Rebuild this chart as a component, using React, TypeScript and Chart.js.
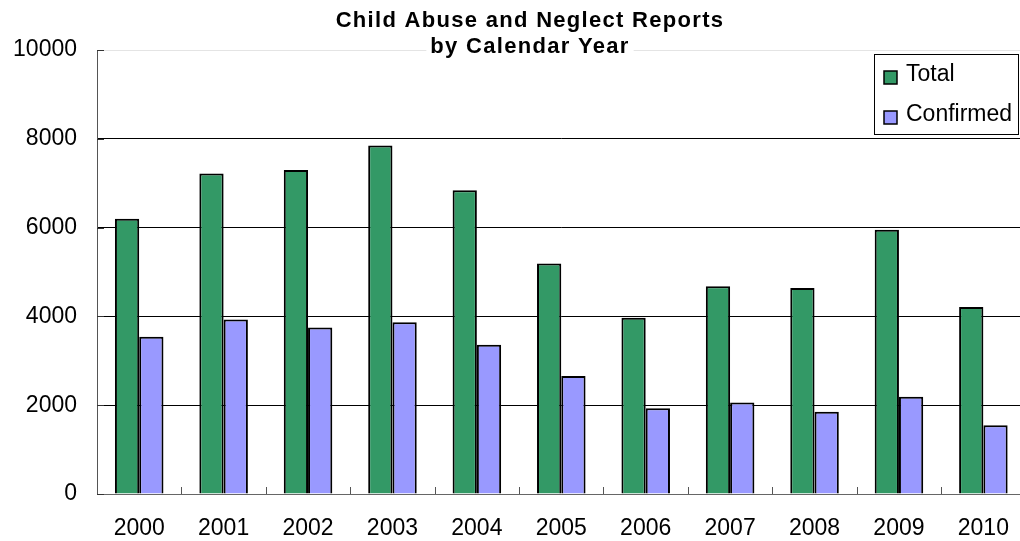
import React, { useEffect, useRef } from "react";
import { Chart, registerables } from "chart.js";

Chart.register(...registerables);

const years = ["2000", "2001", "2002", "2003", "2004", "2005", "2006", "2007", "2008", "2009", "2010"];
const totalReports = [6200, 7220, 7300, 7850, 6840, 5190, 3970, 4680, 4640, 5950, 4210];
const confirmedReports = [3540, 3930, 3750, 3870, 3360, 2660, 1930, 2060, 1850, 2190, 1550];
const titleLines = ["Child Abuse and Neglect Reports", "by Calendar Year"];
const seriesNames = ["Total", "Confirmed"];
const yTicks = [0, 2000, 4000, 6000, 8000, 10000];

const FONT = "'Liberation Sans', Arial, sans-serif";
const GREEN = "#339966";
const PURPLE = "#9999FF";

const decorPlugin = {
  id: "decor",
  afterDraw(chart: any) {
    const ctx = chart.ctx as CanvasRenderingContext2D;
    const area = chart.chartArea;
    const xs = chart.scales.x;
    const ys = chart.scales.y;
    ctx.save();

    // inner tick marks on x axis between categories
    ctx.strokeStyle = "#555";
    ctx.lineWidth = 1;
    for (let i = 0; i < years.length; i++) {
      const a = xs.getPixelForValue(i);
      const b = i + 1 < years.length ? xs.getPixelForValue(i + 1) : a + (a - xs.getPixelForValue(i - 1));
      const x = Math.round((a + b) / 2) + 0.5;
      ctx.beginPath();
      ctx.moveTo(x, area.bottom);
      ctx.lineTo(x, area.bottom - 7);
      ctx.stroke();
    }
    // inner tick marks on y axis
    ctx.strokeStyle = "#333";
    for (const v of yTicks) {
      const y = Math.round(ys.getPixelForValue(v)) + 0.5;
      ctx.beginPath();
      ctx.moveTo(area.left, y);
      ctx.lineTo(area.left + 7, y);
      ctx.stroke();
    }

    // title
    ctx.font = `bold 22px ${FONT}`;
    (ctx as any).letterSpacing = "1.3px";
    ctx.textAlign = "center";
    ctx.textBaseline = "middle";
    const cx = 530;
    const ly = [20.5, 47];
    titleLines.forEach((t, i) => {
      const w = ctx.measureText(t).width;
      ctx.fillStyle = "#fff";
      ctx.fillRect(cx - w / 2 - 4, ly[i] - 12, w + 8, 26);
    });
    ctx.fillStyle = "#000";
    titleLines.forEach((t, i) => {
      ctx.fillText(t, cx, ly[i]);
    });
    (ctx as any).letterSpacing = "0px";

    // legend
    const bx = 874.5, by = 54.5, bw = 144, bh = 80;
    ctx.fillStyle = "#fff";
    ctx.fillRect(bx, by, bw, bh);
    ctx.strokeStyle = "#000";
    ctx.lineWidth = 1;
    ctx.strokeRect(bx, by, bw, bh);
    const rows = [74.5, 114.5];
    ctx.font = `23px ${FONT}`;
    ctx.textAlign = "left";
    ctx.textBaseline = "middle";
    chart.data.datasets.forEach((ds: any, i: number) => {
      const my = rows[i] + 3;
      ctx.fillStyle = ds.backgroundColor;
      ctx.fillRect(884, my - 6.5, 13, 13);
      ctx.lineWidth = 1.5;
      ctx.strokeStyle = "#000";
      ctx.strokeRect(884, my - 6.5, 13, 13);
      ctx.fillStyle = "#000";
      ctx.fillText(seriesNames[i], 906, rows[i]);
    });
    ctx.restore();
  },
};

export default function App() {
  const ref = useRef<HTMLCanvasElement | null>(null);
  useEffect(() => {
    if (!ref.current) return;
    const chart = new Chart(ref.current, {
      type: "bar",
      data: {
        labels: years,
        datasets: [
          {
            label: seriesNames[0],
            data: totalReports,
            backgroundColor: GREEN,
            borderColor: "#000",
            borderWidth: 2,
            categoryPercentage: 0.575,
            barPercentage: 1,
          },
          {
            label: seriesNames[1],
            data: confirmedReports,
            backgroundColor: PURPLE,
            borderColor: "#000",
            borderWidth: 2,
            categoryPercentage: 0.575,
            barPercentage: 1,
          },
        ],
      },
      options: {
        animation: false,
        responsive: false,
        maintainAspectRatio: false,
        devicePixelRatio: 1,
        layout: { padding: { top: 50, left: 0, right: 1, bottom: 0 } },
        plugins: {
          legend: { display: false },
          title: { display: false },
          tooltip: { enabled: false },
        },
        scales: {
          x: {
            grid: { display: false, drawTicks: false },
            border: { display: true, color: "#666", width: 1 },
            ticks: { color: "#000", font: { family: FONT, size: 23 }, padding: 21, maxRotation: 0 },
            afterFit: (s: any) => {
              s.height = 47;
            },
          },
          y: {
            min: 0,
            max: 10000,
            ticks: {
              stepSize: 2000,
              color: "#000",
              font: { family: FONT, size: 23 },
              padding: 20,
              callback: (v: any) => String(v),
            },
            grid: {
              drawTicks: false,
              lineWidth: 1,
              color: (c: any) => (c.tick && c.tick.value === 10000 ? "#e4e4e4" : c.tick && c.tick.value === 0 ? "#666" : "#000"),
            },
            border: { display: true, color: "#555", width: 1 },
            afterFit: (s: any) => {
              s.width = 97;
            },
          },
        },
      },
      plugins: [decorPlugin],
    });
    return () => chart.destroy();
  }, []);
  return (
    <div style={{ position: "fixed", left: 0, top: 0, width: 1020, height: 541, overflow: "hidden", background: "#fff" }}>
      <canvas ref={ref} width={1030} height={541} style={{ display: "block", width: 1030, height: 541 }} />
    </div>
  );
}
